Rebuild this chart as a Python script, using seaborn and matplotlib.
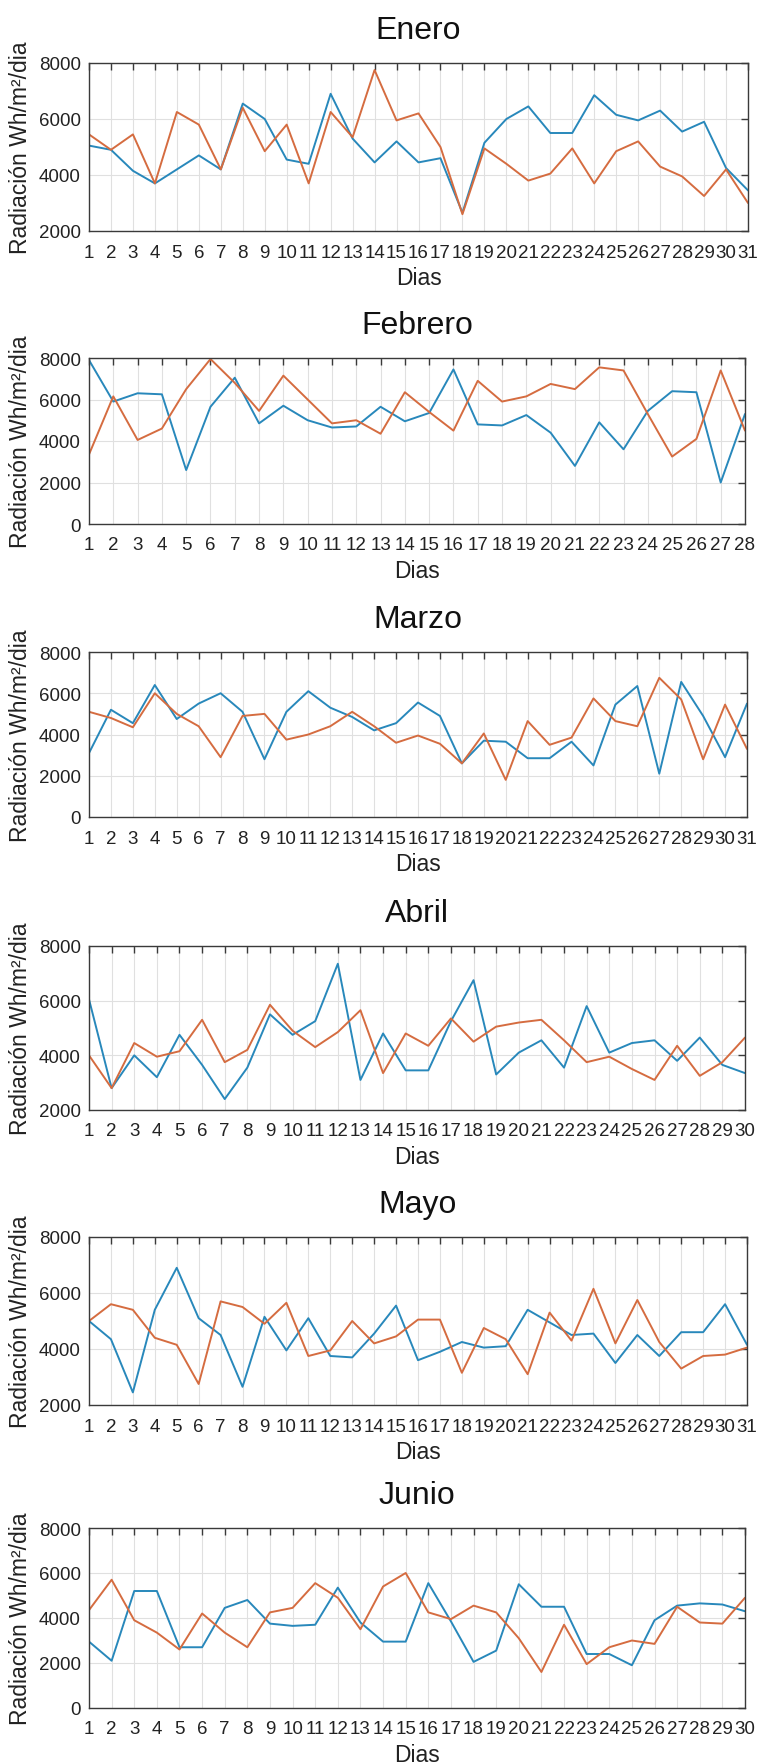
import numpy as np
import pandas as pd
import matplotlib
matplotlib.use("Agg")
import matplotlib.pyplot as plt
import seaborn as sns

# Radiación diaria (Wh/m²/dia), dos series por mes
meses = ["Enero", "Febrero", "Marzo", "Abril", "Mayo", "Junio"]

enero_azul = [5050, 4900, 4150, 3700, 4200, 4700, 4200, 6550, 6000, 4550, 4400,
              6900, 5300, 4450, 5200, 4450, 4600, 2650, 5150, 6000, 6450, 5500,
              5500, 6850, 6150, 5950, 6300, 5550, 5900, 4250, 3450]
enero_naranja = [5450, 4900, 5450, 3700, 6250, 5800, 4200, 6400, 4850, 5800, 3700,
                 6250, 5350, 7750, 5950, 6200, 5000, 2600, 4950, 4400, 3800, 4050,
                 4950, 3700, 4850, 5200, 4300, 3950, 3250, 4200, 3000]

febrero_azul = [7900, 5900, 6300, 6250, 2600, 5650, 7050, 4850, 5700, 5000, 4650,
                4700, 5650, 4950, 5350, 7450, 4800, 4750, 5250, 4400, 2800, 4900,
                3600, 5450, 6400, 6350, 2000, 5300]
febrero_naranja = [3350, 6150, 4050, 4600, 6500, 7950, 6800, 5450, 7150, 6000, 4850,
                   5000, 4350, 6350, 5400, 4500, 6900, 5900, 6150, 6750, 6500, 7550,
                   7400, 5300, 3250, 4100, 7400, 4500]

marzo_azul = [3100, 5200, 4550, 6400, 4750, 5500, 6000, 5100, 2800, 5100, 6100,
              5300, 4850, 4200, 4550, 5550, 4900, 2600, 3700, 3650, 2850, 2850,
              3650, 2500, 5450, 6350, 2100, 6550, 4900, 2900, 5500]
marzo_naranja = [5100, 4800, 4350, 6000, 5000, 4400, 2900, 4900, 5000, 3750, 4000,
                 4400, 5100, 4400, 3600, 3950, 3550, 2600, 4050, 1800, 4650, 3500,
                 3850, 5750, 4650, 4400, 6750, 5700, 2800, 5450, 3300]

abril_azul = [6050, 2800, 4000, 3200, 4750, 3650, 2400, 3550, 5500, 4750, 5250,
              7350, 3100, 4800, 3450, 3450, 5250, 6750, 3300, 4100, 4550, 3550,
              5800, 4100, 4450, 4550, 3800, 4650, 3650, 3350]
abril_naranja = [4000, 2800, 4450, 3950, 4150, 5300, 3750, 4200, 5850, 4900, 4300,
                 4850, 5650, 3350, 4800, 4350, 5350, 4500, 5050, 5200, 5300, 4550,
                 3750, 3950, 3500, 3100, 4350, 3250, 3750, 4650]

mayo_azul = [5000, 4350, 2450, 5400, 6900, 5100, 4500, 2650, 5150, 3950, 5100,
             3750, 3700, 4550, 5550, 3600, 3900, 4250, 4050, 4100, 5400, 4950,
             4500, 4550, 3500, 4500, 3750, 4600, 4600, 5600, 4150]
mayo_naranja = [5000, 5600, 5400, 4400, 4150, 2750, 5700, 5500, 4900, 5650, 3750,
                3950, 5000, 4200, 4450, 5050, 5050, 3150, 4750, 4350, 3100, 5300,
                4300, 6150, 4200, 5750, 4250, 3300, 3750, 3800, 4050]

junio_azul = [2950, 2100, 5200, 5200, 2700, 2700, 4450, 4800, 3750, 3650, 3700,
              5350, 3800, 2950, 2950, 5550, 3850, 2050, 2550, 5500, 4500, 4500,
              2400, 2400, 1900, 3900, 4550, 4650, 4600, 4300]
junio_naranja = [4350, 5700, 3900, 3350, 2600, 4200, 3350, 2700, 4250, 4450, 5550,
                 4900, 3500, 5400, 6000, 4250, 3950, 4550, 4250, 3100, 1600, 3700,
                 1950, 2700, 3000, 2850, 4500, 3800, 3750, 4900]

series_azul = [enero_azul, febrero_azul, marzo_azul, abril_azul, mayo_azul, junio_azul]
series_naranja = [enero_naranja, febrero_naranja, marzo_naranja, abril_naranja,
                  mayo_naranja, junio_naranja]
y_minimos = [2000, 0, 0, 2000, 2000, 0]

sns.set_theme(style="white")
plt.rcParams["font.family"] = ["Liberation Sans", "DejaVu Sans"]

W, H = 757, 1765
fig = plt.figure(figsize=(W / 100, H / 100), dpi=100)

# cajas de los ejes en píxeles: izquierda, derecha, arriba, abajo
cajas = [(89, 748, 64, 232), (89, 745, 359, 525), (89, 747, 653, 818),
         (89, 745, 947, 1111), (89, 747, 1238, 1406), (89, 745, 1529, 1709)]

color_azul = "#2888bb"
color_naranja = "#d56c40"
borde = "#3a3a3a"

for mes, azul, naranja, ymin, (l, r, t, b) in zip(meses, series_azul, series_naranja,
                                                   y_minimos, cajas):
    ax = fig.add_axes([l / W, 1 - b / H, (r - l) / W, (b - t) / H])
    n = len(azul)
    dias = list(range(1, n + 1))
    df = pd.DataFrame({
        "Dia": dias + dias,
        "Radiacion": azul + naranja,
        "Serie": ["azul"] * n + ["naranja"] * n,
    })
    sns.lineplot(data=df, x="Dia", y="Radiacion", hue="Serie",
                 palette=[color_azul, color_naranja], linewidth=1.4,
                 legend=False, ax=ax)
    ax.set_xlim(1, n)
    ax.set_ylim(ymin, 8000)
    ax.set_xticks(dias)
    ax.set_yticks(np.arange(ymin, 8001, 2000))
    ax.grid(True, color="#e0e0e0", linewidth=0.8)
    ax.set_axisbelow(True)
    ax.tick_params(direction="in", top=True, right=True, length=5, width=1,
                   color=borde, labelsize=13.5, labelcolor="#222222")
    ax.tick_params(axis="x", pad=9)
    ax.tick_params(axis="y", pad=6)
    for s in ax.spines.values():
        s.set_color(borde)
        s.set_linewidth(1.0)
    ax.set_title(mes, fontsize=23, pad=18, color="#111111")
    ax.set_xlabel("Dias", fontsize=16.5, labelpad=4, color="#222222")
    ax.set_ylabel("Radiación Wh/m²/dia", fontsize=16.5, labelpad=5, color="#222222")

fig.savefig("out.png", dpi=100)
